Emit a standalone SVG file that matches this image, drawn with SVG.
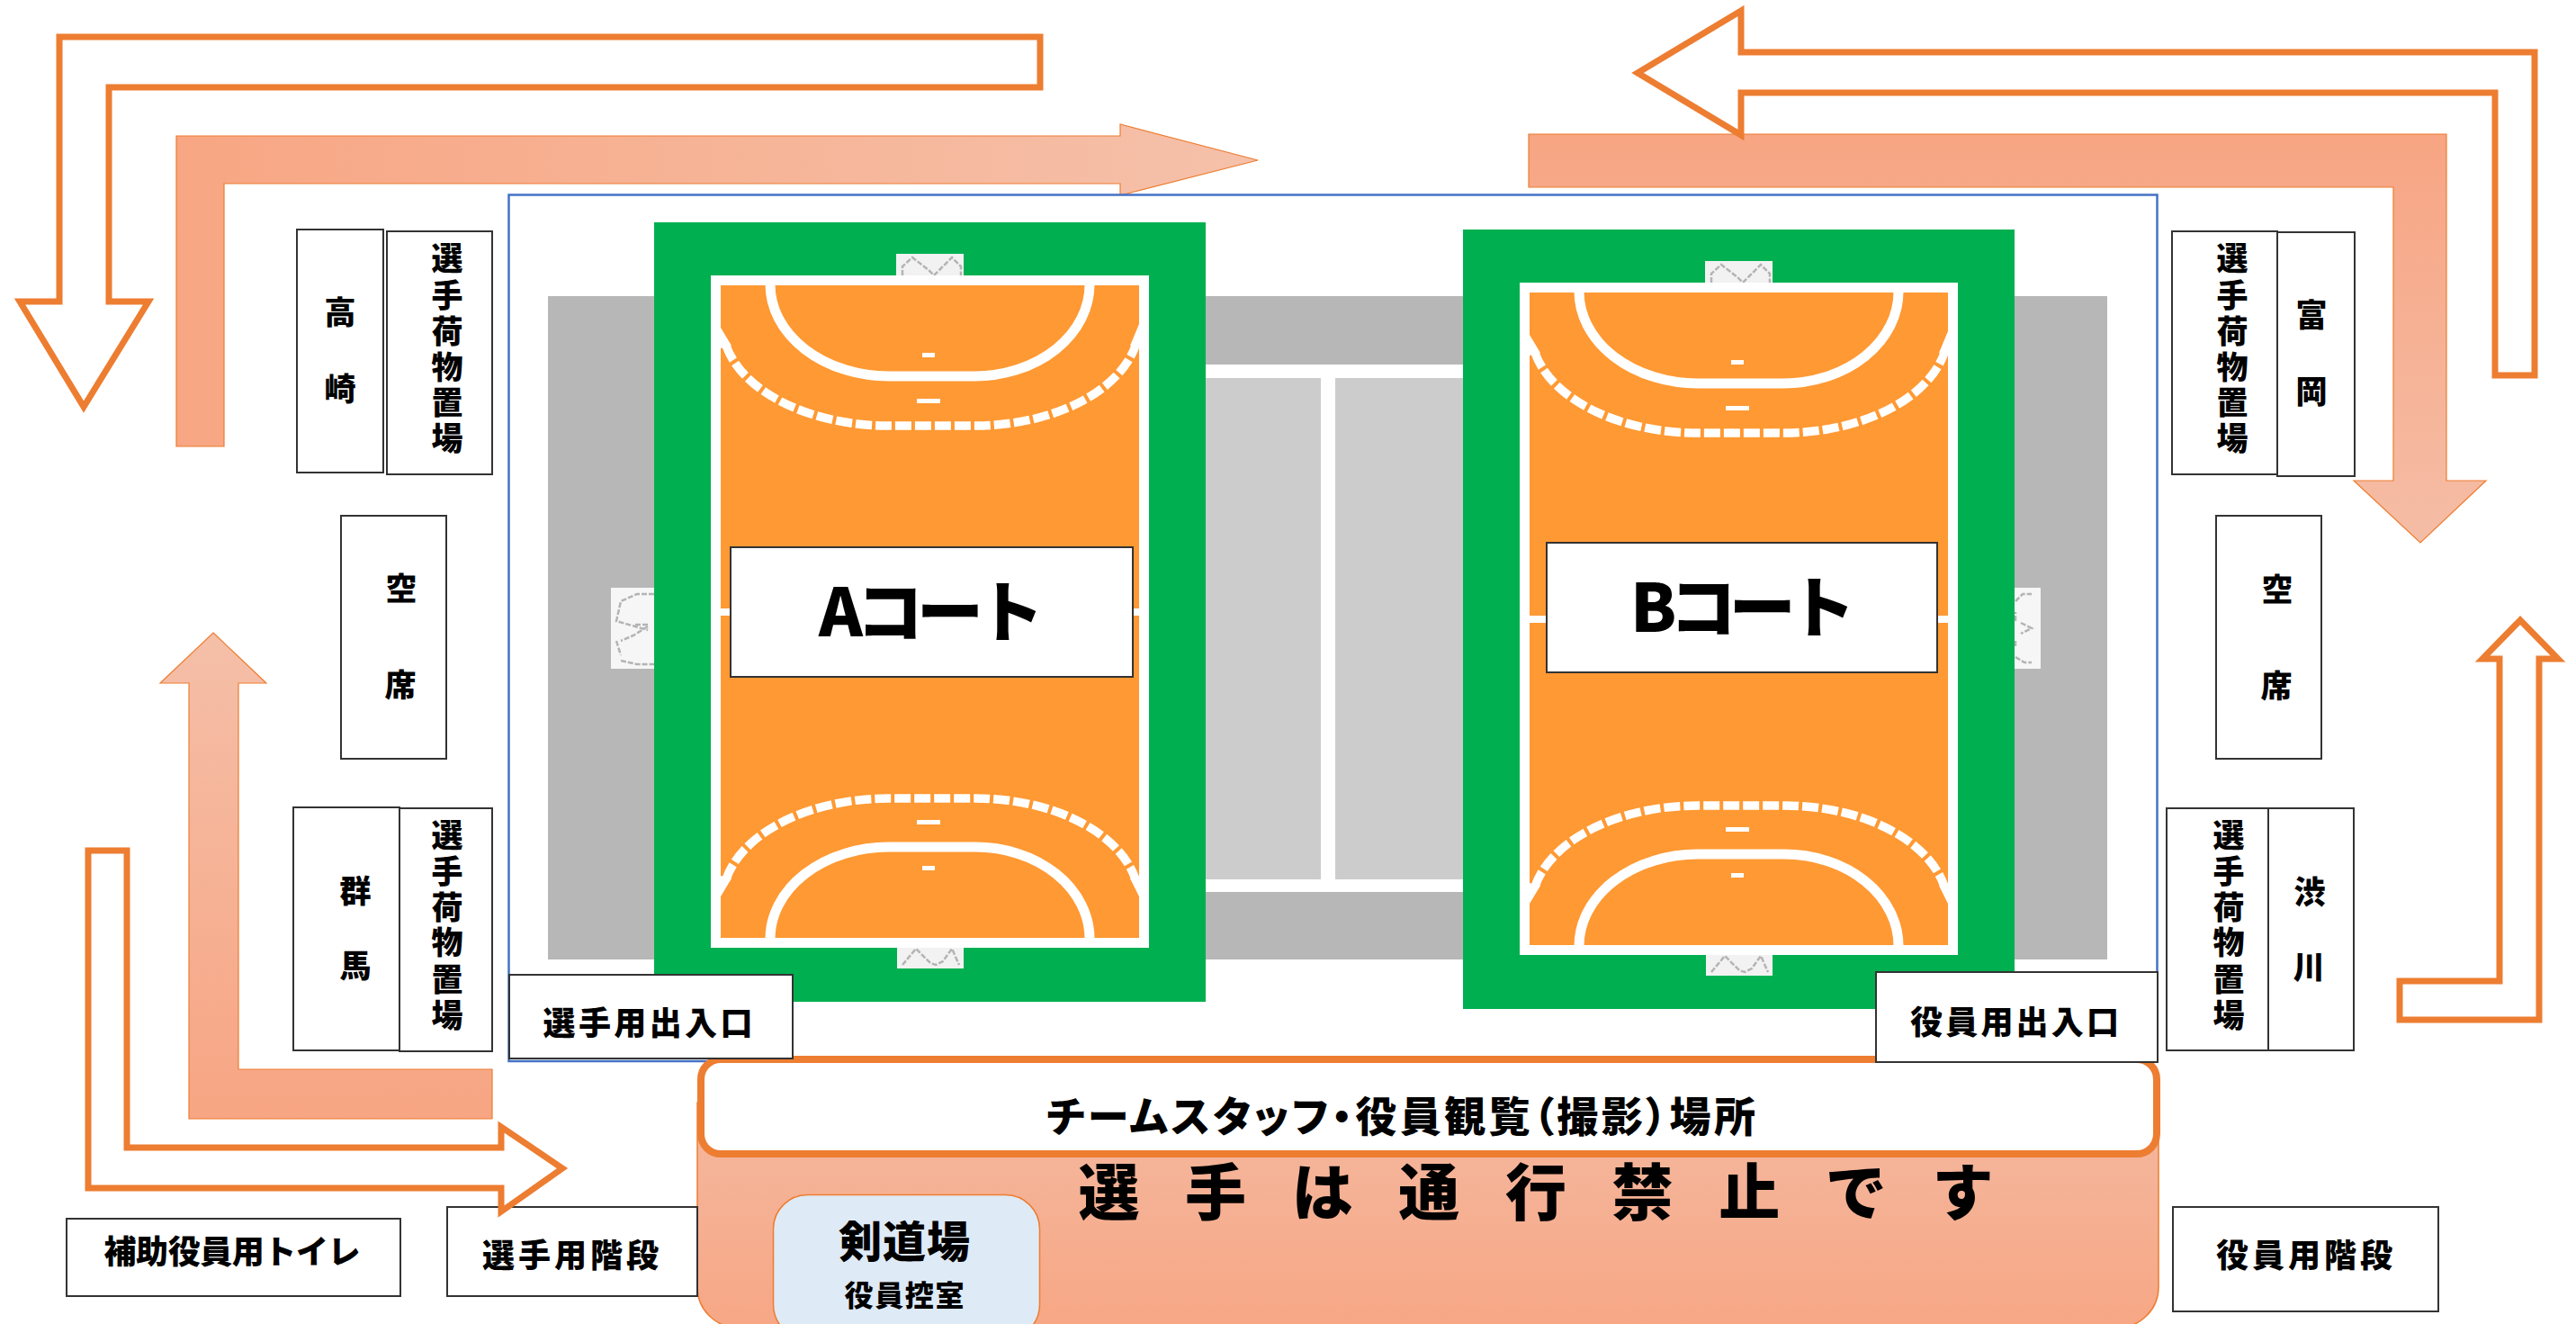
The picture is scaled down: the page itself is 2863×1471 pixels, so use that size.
<svg xmlns="http://www.w3.org/2000/svg" xmlns:xlink="http://www.w3.org/1999/xlink" width="2863" height="1471" viewBox="0 0 2863 1471">
<style>
text{font-family:"Noto Sans CJK JP","Noto Sans",sans-serif;font-weight:900;fill:#000;text-anchor:middle}
.box{fill:#fff;stroke:#333;stroke-width:2}
.v{font-size:35px}
.h{font-size:36px}
.p{font-feature-settings:"palt"}
.outline{fill:#fff;stroke:#ED7D31;stroke-width:7;stroke-miterlimit:8}
.solid{stroke:#ED7D31;stroke-width:1.2}
.ln{fill:none;stroke:#fff}
.net{fill:none;stroke:#b4b4b4;stroke-width:2.500;stroke-dasharray:6 2}
</style>
<defs>
<linearGradient id="gH" x1="0" x2="1" y1="0" y2="0"><stop offset="0" stop-color="#F8A683"/><stop offset="1" stop-color="#F5C1AA"/></linearGradient>
<linearGradient id="gV" x1="0" x2="0" y1="0" y2="1"><stop offset="0" stop-color="#F7A583"/><stop offset="1" stop-color="#F5BDA6"/></linearGradient>
<linearGradient id="gU" x1="0" x2="0" y1="0" y2="1"><stop offset="0" stop-color="#F5BFA8"/><stop offset="1" stop-color="#F7A583"/></linearGradient>
<linearGradient id="gB" x1="0" x2="0" y1="0" y2="1"><stop offset="0" stop-color="#F4B89F"/><stop offset="1" stop-color="#F7A785"/></linearGradient>
<g id="court">
<rect x="727" y="247" width="613" height="866" fill="#00B050"/>
<rect x="996" y="282" width="75" height="26" fill="#F2F2F2"/>
<path class="net" d="M1003 306V296L1014 286L1032 300L1038 306L1044 300L1058 286L1068 296V306"/>
<rect x="997" y="1051" width="74" height="25" fill="#F2F2F2"/>
<path class="net" d="M1003 1072L1018 1054L1034 1070L1040 1072L1048 1068L1058 1054L1066 1072"/>
<rect x="795.500" y="311.500" width="476" height="736" fill="#FF9933" stroke="#fff" stroke-width="11"/>
<path class="ln" stroke-width="8" d="M790 680H1277"/>
<path class="ln" stroke-width="11" d="M856 316A132 102 0 0 0 988 418H1083A128 102 0 0 0 1211 316"/>
<path class="ln" stroke-width="11" d="M856 1043A132 102 0 0 1 988 941H1084A127 102 0 0 1 1211 1043"/>
<path class="ln" stroke-width="9.500" stroke-dasharray="18 4" d="M807 384A185 113 0 0 0 988 473H1083A183 113 0 0 0 1262 384"/>
<path class="ln" stroke-width="9.500" stroke-dasharray="18 4" d="M807 977A185 113 0 0 1 988 887H1084A182 113 0 0 1 1262 977"/>
<path d="M801 364L813 384L801 387ZM1266 360L1256 384L1266 387ZM801 996L813 976L801 973ZM1266 996L1256 976L1266 973Z" fill="#fff"/>
<rect x="1019" y="443" width="26" height="5" fill="#fff"/><rect x="1025" y="392" width="14" height="5" fill="#fff"/>
<rect x="1019" y="911" width="26" height="5" fill="#fff"/><rect x="1025" y="962" width="14" height="5" fill="#fff"/>
</g>
</defs>

<g id="connectors">
<polygon id="arrow-fill-top-left" class="solid" fill="url(#gH)" points="196,151 1245,151 1245,138 1398,178 1245,217 1245,204 249,204 249,496 196,496"/>
<polygon id="arrow-fill-top-right" class="solid" fill="url(#gV)" points="1699,149 2719,149 2719,534 2763,534 2690,603 2616,534 2660,534 2660,208 1699,208"/>
<polygon id="arrow-outline-top-right" class="outline" points="1935,12 1820,81 1935,150 1935,103 2773,103 2773,417 2817,417 2817,58 1935,58"/>
<polygon id="arrow-outline-top-left" class="outline" points="1156,41 66,41 66,335 22,335 93,452 165,335 121,335 121,97 1156,97"/>
<polygon id="arrow-fill-bottom-left" class="solid" fill="url(#gU)" points="237,703 296,759 265,759 265,1188 547,1188 547,1243 210,1243 210,759 178,759"/>
</g>

<g id="hall">
<rect x="565.500" y="216.500" width="1832" height="962.500" fill="#fff" stroke="#4472C4" stroke-width="2.500"/>
<rect x="609" y="329" width="1733" height="737" fill="#B7B7B7"/>
<rect x="1340" y="405" width="300" height="586" fill="#fff"/>
<rect x="1340" y="420" width="128" height="557" fill="#CCCCCC"/>
<rect x="1484" y="420" width="150" height="557" fill="#CCCCCC"/>
<rect x="679" y="653" width="60" height="90" fill="#F6F6F6"/>
<path class="net" d="M727 660H708L690 668L685 690L706 696L720 700M720 694H706M690 734L708 738H727M685 712L690 728M720 696L704 706L690 712"/>
<rect x="2225" y="653" width="43" height="90" fill="#F6F6F6"/>
<path class="net" d="M2240 668L2248 660H2258M2240 690V680M2246 692L2258 698L2246 704M2240 730L2250 736H2258M2240 712V720"/>
</g>

<g id="court-a"><use xlink:href="#court" href="#court"/></g>
<g id="court-b"><use xlink:href="#court" href="#court" transform="translate(899 8)"/></g>

<g id="label-a"><rect class="box" x="812" y="608" width="447" height="144"/><text x="1035" y="707" font-size="74" textLength="250">Aコート</text></g>
<g id="label-b"><rect class="box" x="1719" y="603" width="434" height="144"/><text x="1937" y="702" font-size="74" textLength="250">Bコート</text></g>

<g id="node-stands">
<path d="M775 1225V1430A45 45 0 0 0 820 1475H2354A45 45 0 0 0 2399 1430V1225Z" fill="url(#gB)" stroke="#ED7D31" stroke-width="1.500"/>
<rect x="779" y="1177" width="1618" height="105" rx="22" fill="#fff" stroke="#ED7D31" stroke-width="8"/>
<text class="p" x="1557" y="1257" font-size="46" textLength="788">チームスタッフ・役員観覧（撮影）場所</text>
<text x="1707" y="1350" font-size="68" textLength="1017">選手は通行禁止です</text>
</g>
<g id="node-kendo"><rect x="859.500" y="1327.500" width="296" height="160" rx="38" fill="#DEEAF6" stroke="#ED7D31" stroke-width="1.500"/>
<text x="1005" y="1397" font-size="48" textLength="146">剣道場</text>
<text x="1005" y="1451" font-size="32" textLength="133">役員控室</text></g>

<g id="node-takasaki"><rect class="box" x="330" y="255" width="96" height="270"/><text class="v" x="378" y="360">高</text><text class="v" x="378" y="445">崎</text></g>
<g id="node-luggage-tl"><rect class="box" x="430" y="257" width="117" height="270"/><text class="v" x="497 497 497 497 497 497" y="300 341 381 421 460 500">選手荷物置場</text></g>
<g id="node-empty-l"><rect class="box" x="379" y="573" width="117" height="270"/><text class="v" x="446" y="667">空</text><text class="v" x="445" y="774">席</text></g>
<g id="node-gunma"><rect class="box" x="326" y="897" width="118" height="270"/><text class="v" x="395" y="1003">群</text><text class="v" x="395" y="1086">馬</text></g>
<g id="node-luggage-bl"><rect class="box" x="444" y="898" width="103" height="270"/><text class="v" x="497 497 497 497 497 497" y="941 981 1021 1060 1101 1141">選手荷物置場</text></g>
<g id="node-entry-player"><rect class="box" x="566" y="1083" width="315" height="93"/><text class="h" x="720" y="1150" textLength="233">選手用出入口</text></g>
<g id="node-toilet"><rect class="box" x="74" y="1354" width="371" height="86"/><text class="h" x="258" y="1404" font-size="34" textLength="285">補助役員用トイレ</text></g>
<g id="node-stairs-player"><rect class="box" x="497" y="1341" width="278" height="99"/><text class="h" x="634" y="1408" textLength="196">選手用階段</text></g>
<g id="node-stairs-staff"><rect class="box" x="2415" y="1341" width="295" height="116"/><text class="h" x="2561" y="1408" textLength="196">役員用階段</text></g>
<g id="node-entry-staff"><rect class="box" x="2085" y="1080" width="313" height="100"/><text class="h" x="2239" y="1149" textLength="232">役員用出入口</text></g>
<g id="node-luggage-br"><rect class="box" x="2408" y="898" width="113" height="269"/><text class="v" x="2477 2477 2477 2477 2477 2477" y="941 981 1021 1060 1101 1141">選手荷物置場</text></g>
<g id="node-shibukawa"><rect class="box" x="2521" y="898" width="95" height="269"/><text class="v" x="2567" y="1004">渋</text><text class="v" x="2566" y="1087">川</text></g>
<g id="node-empty-r"><rect class="box" x="2463" y="573" width="117" height="270"/><text class="v" x="2531" y="668">空</text><text class="v" x="2530" y="775">席</text></g>
<g id="node-luggage-tr"><rect class="box" x="2414" y="257" width="117" height="270"/><text class="v" x="2481 2481 2481 2481 2481 2481" y="300 341 381 421 460 500">選手荷物置場</text></g>
<g id="node-tomioka"><rect class="box" x="2531" y="258" width="86" height="271"/><text class="v" x="2569" y="363">富</text><text class="v" x="2569" y="448">岡</text></g>

<g id="connectors-lower">
<polygon id="arrow-outline-bottom-left" class="outline" points="98,945 141,945 141,1275 557,1275 557,1252 625,1298 557,1346 557,1320 98,1320"/>
<polygon id="arrow-outline-right" class="outline" points="2801,689 2843,732 2822,732 2822,1133 2667,1133 2667,1090 2778,1090 2778,732 2759,732"/>
</g>
</svg>
